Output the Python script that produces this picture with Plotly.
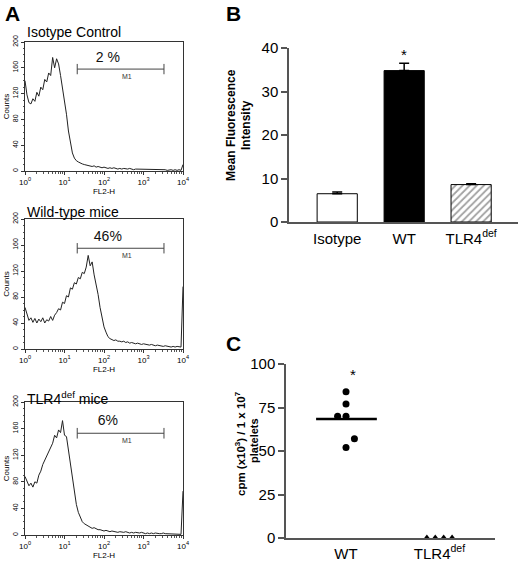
import numpy as np
import plotly.graph_objects as go

# ---- panel A: FL2-H histograms, 20 channels per decade (10^0 .. 10^4) ----
channels = np.arange(81)
isotype_counts = [140, 118, 106, 104, 112, 108, 122, 116, 130, 126,
                  142, 138, 152, 148, 176, 160, 174, 166, 148, 128,
                  110, 88, 62, 42, 28, 20, 16, 14, 12, 11,
                  10, 9, 9, 8, 7, 8, 6, 7, 6, 5,
                  6, 5, 4, 5, 4, 5, 4, 3, 4, 3,
                  4, 3, 3, 4, 3, 2, 3, 3, 2, 3,
                  2, 3, 2, 2, 3, 2, 2, 2, 3, 2,
                  2, 2, 1, 2, 2, 1, 2, 1, 2, 1,
                  10]
wt_counts = [64, 52, 44, 48, 41, 47, 40, 46, 42, 48,
             40, 45, 43, 50, 44, 52, 56, 62, 60, 72,
             70, 82, 80, 94, 92, 102, 100, 110, 108, 118,
             116, 126, 144, 128, 134, 114, 100, 84, 64, 46,
             34, 26, 19, 16, 15, 13, 14, 12, 12, 11,
             12, 10, 11, 9, 10, 9, 8, 9, 8, 7,
             8, 7, 7, 6, 7, 6, 5, 6, 5, 5,
             4, 5, 4, 4, 3, 4, 3, 4, 3, 3,
             96]
tlr4_counts = [88, 80, 74, 78, 72, 80, 78, 90, 96, 106,
               112, 118, 126, 132, 138, 150, 146, 158, 154, 172,
               150, 148, 128, 112, 90, 66, 46, 34, 26, 20,
               17, 15, 13, 12, 10, 11, 9, 8, 8, 7,
               6, 7, 6, 5, 6, 5, 5, 4, 5, 4,
               4, 5, 4, 3, 4, 3, 4, 3, 3, 4,
               3, 2, 3, 2, 3, 2, 3, 2, 2, 2,
               3, 2, 2, 2, 1, 2, 2, 1, 2, 1,
               66]
hist_titles = ["Isotype Control", "Wild-type mice", "TLR4<sup>def</sup> mice"]
gate_pct = ["2 %", "46%", "6%"]
gate_lo, gate_hi = 21, 3300
gate_level = [158, 155, 153]

# ---- panel B: mean fluorescence intensity ----
mfi_groups = ["Isotype", "WT", "TLR4<sup>def</sup>"]
mfi_mean = [6.5, 34.8, 8.6]
mfi_sem = [0.4, 1.7, 0.2]

# ---- panel C: cpm per 10^7 platelets ----
cpm_groups = ["WT", "TLR4<sup>def</sup>"]
cpm_wt = [84, 77, 70, 70, 57, 52]
cpm_wt_jitter = [0, 0, -0.09, 0, 0.09, 0]
cpm_tlr4 = [0, 0, 0, 0]
cpm_tlr4_jitter = [-0.135, -0.045, 0.045, 0.135]

W, H = 520, 561
FONT = "Liberation Sans, Arial, sans-serif"


def px(x):
    return x / W


def py(y):
    return 1 - y / H


def label(text, x, y, size, angle=0, xanchor="center"):
    return dict(text=text, x=px(x), y=py(y), xref="paper", yref="paper",
                xanchor=xanchor, yanchor="middle", textangle=angle,
                showarrow=False, font=dict(size=size, color="black"))


fl2 = 10 ** (channels / 20)
fig = go.Figure()

hist_rows = [(42, 171), (219, 349), (402, 535)]
for i, counts in enumerate([isotype_counts, wt_counts, tlr4_counts]):
    n = "" if i == 0 else str(i + 1)
    xa, ya = "x" + n, "y" + n
    fig.add_trace(go.Scatter(x=fl2, y=counts, mode="lines", xaxis=xa, yaxis=ya,
                             line=dict(color="#222", width=1)))
    g = gate_level[i]
    fig.add_trace(go.Scatter(x=[gate_lo, gate_lo, None, gate_lo, gate_hi, None, gate_hi, gate_hi],
                             y=[g - 8, g + 8, None, g, g, None, g - 8, g + 8],
                             mode="lines", xaxis=xa, yaxis=ya,
                             line=dict(color="#444", width=1)))
    fig.add_trace(go.Scatter(x=[125], y=[g + 17], text=[gate_pct[i]], mode="text",
                             xaxis=xa, yaxis=ya, textfont=dict(size=14, color="#111")))
    fig.add_trace(go.Scatter(x=[380], y=[g - 12], text=["M1"], mode="text",
                             xaxis=xa, yaxis=ya, textfont=dict(size=7, color="#333")))
    top, bot = hist_rows[i]
    fig.update_layout({
        "xaxis" + n: dict(domain=[px(25), px(183)], anchor=ya, type="log", range=[0, 4],
                          automargin=False,
                          tickvals=[1, 10, 100, 1000, 10000],
                          ticktext=["10<sup>%d</sup>" % k for k in range(5)],
                          ticks="outside", ticklen=3, tickcolor="#333",
                          minor=dict(ticks="outside", ticklen=1.5, dtick="D1", tickcolor="#555"),
                          showline=True, mirror=True, linecolor="#333", linewidth=1,
                          showgrid=False, zeroline=False, tickfont=dict(size=8),
                          title=dict(text="FL2-H", font=dict(size=8), standoff=2)),
        "yaxis" + n: dict(domain=[py(bot), py(top)], anchor=xa, range=[0, 200],
                          automargin=False,
                          tickvals=[0, 40, 80, 120, 160, 200], tickangle=-90,
                          ticks="outside", ticklen=3, tickcolor="#333",
                          minor=dict(ticks="outside", ticklen=1.5, dtick=10, tickcolor="#555"),
                          showline=True, mirror=True, linecolor="#333", linewidth=1,
                          showgrid=False, zeroline=False, tickfont=dict(size=7),
                          title=dict(text="Counts", font=dict(size=8), standoff=1)),
    })

# panel B bars
fig.add_trace(go.Bar(x=[0, 1, 2], y=mfi_mean, width=0.6, xaxis="x4", yaxis="y4",
                     marker=dict(color=["white", "black", "white"],
                                 line=dict(color="black", width=1),
                                 pattern=dict(shape=["", "", "/"], fgcolor="#333",
                                              size=5, solidity=0.35)),
                     error_y=dict(type="data", array=mfi_sem, arrayminus=[0, 0, 0],
                                  symmetric=False, color="black", thickness=1.5, width=5)))

# panel C scatter
fig.add_trace(go.Scatter(x=[1 + j for j in cpm_wt_jitter], y=cpm_wt, mode="markers",
                         xaxis="x5", yaxis="y5", cliponaxis=False,
                         marker=dict(symbol="circle", size=7, color="black")))
fig.add_trace(go.Scatter(x=[2 + j for j in cpm_tlr4_jitter], y=cpm_tlr4, mode="markers",
                         xaxis="x5", yaxis="y5", cliponaxis=False,
                         marker=dict(symbol="triangle-up", size=7, color="black")))
wt_mean = float(np.mean(cpm_wt))
fig.add_trace(go.Scatter(x=[0.68, 1.33], y=[wt_mean, wt_mean], mode="lines",
                         xaxis="x5", yaxis="y5", line=dict(color="black", width=2.5)))

axis_grey = "#555"
fig.update_layout(
    xaxis4=dict(domain=[px(289), px(518)], anchor="y4", range=[-0.72, 2.7],
                automargin=False,
                tickvals=[0, 1, 2], ticktext=mfi_groups, ticks="",
                showline=True, linecolor=axis_grey, linewidth=1.5,
                showgrid=False, zeroline=False, tickfont=dict(size=15),
                ticklabelstandoff=2),
    yaxis4=dict(domain=[py(222), py(48)], anchor="x4", range=[0, 40], dtick=10,
                automargin=False,
                ticks="outside", ticklen=6, tickwidth=1.5, tickcolor=axis_grey,
                showline=True, linecolor=axis_grey, linewidth=1.5,
                showgrid=False, zeroline=False, tickfont=dict(size=15)),
    xaxis5=dict(domain=[px(286), px(495)], anchor="y5", range=[0.358, 2.594],
                automargin=False,
                tickvals=[1, 2], ticktext=cpm_groups, ticks="",
                showline=True, linecolor=axis_grey, linewidth=1.5,
                showgrid=False, zeroline=False, tickfont=dict(size=15),
                ticklabelstandoff=1),
    yaxis5=dict(domain=[py(538), py(364)], anchor="x5", range=[0, 100], dtick=25,
                automargin=False,
                ticks="outside", ticklen=6, tickwidth=1.5, tickcolor=axis_grey,
                showline=True, linecolor=axis_grey, linewidth=1.5,
                showgrid=False, zeroline=False, tickfont=dict(size=15)),
)

ann = []
# panel letters
for letter, x, y in [("A", 12, 14), ("B", 233, 14), ("C", 233, 343)]:
    ann.append(label("<b>%s</b>" % letter, x, y, 21))
# histogram titles
for t, y in zip(hist_titles, [32, 212, 398]):
    ann.append(label(t, 25, y, 14, xanchor="left"))
# y titles of B and C, one annotation per line
ann.append(label("<b>Mean Fluorescence</b>", 231, 125, 12, angle=-90))
ann.append(label("<b>Intensity</b>", 246, 125, 12, angle=-90))
ann.append(label("<b>cpm (x10<sup>3</sup>) / 1 x 10<sup>7</sup></b>", 240, 444, 11.5, angle=-90))
ann.append(label("<b>platelets</b>", 254, 441, 11, angle=-90))
# significance stars
ann.append(dict(text="*", x=1, y=mfi_mean[1] + mfi_sem[1], xref="x4", yref="y4",
                xanchor="center", yanchor="bottom", yshift=-2, showarrow=False,
                font=dict(size=15, color="black")))
ann.append(dict(text="*", x=1.075, y=max(cpm_wt) + 4, xref="x5", yref="y5",
                xanchor="center", yanchor="bottom", showarrow=False,
                font=dict(size=15, color="black")))

fig.update_layout(
    width=W, height=H, margin=dict(l=0, r=0, t=0, b=0, autoexpand=False),
    paper_bgcolor="white", plot_bgcolor="white",
    showlegend=False, annotations=ann,
    font=dict(family=FONT, color="black"),
)

fig.write_html("out.html", config={"displayModeBar": False},
               post_script="document.body.style.margin='0';")
